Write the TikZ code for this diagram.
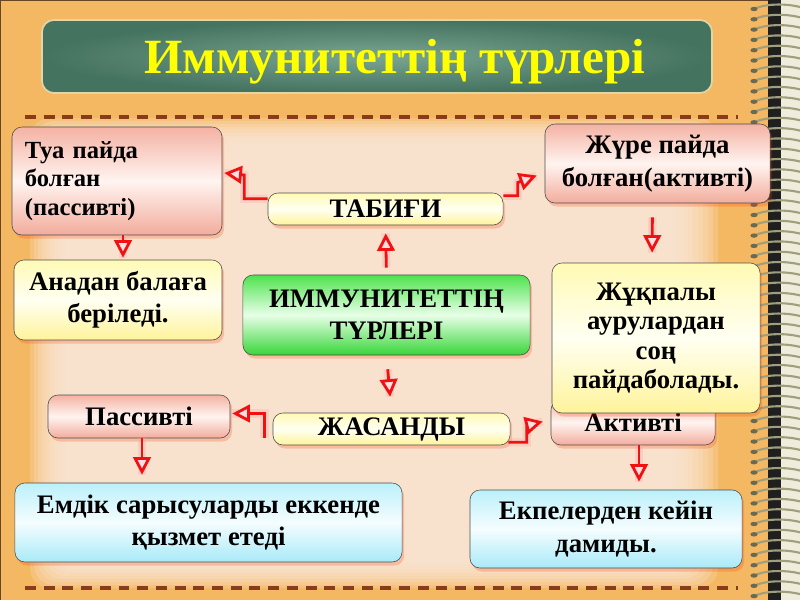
\documentclass[tikz,border=0pt]{standalone}
\usepackage{fontspec}
\setmainfont{Liberation Serif}
\usetikzlibrary{arrows.meta,calc,shadows}
\definecolor{frameorg}{HTML}{F4B862}
\definecolor{peach}{HTML}{FCE9DA}
\definecolor{dashbrn}{HTML}{8A3B1C}
\definecolor{boardgrn}{HTML}{44735F}
\definecolor{boardlt}{HTML}{7AA593}
\definecolor{boardrim}{HTML}{E2D6A8}
\definecolor{ttlyel}{HTML}{FFFF00}
\definecolor{arrred}{HTML}{F01212}
\definecolor{pinktop}{HTML}{F4B2A3}
\definecolor{pinkmid}{HTML}{FFF4F0}
\definecolor{pinkbot}{HTML}{F2AC9C}
\definecolor{yeltop}{HTML}{FFFAB4}
\definecolor{yelmid}{HTML}{FFFFF2}
\definecolor{yelbot}{HTML}{FFF39A}
\definecolor{grntop}{HTML}{4EE34E}
\definecolor{grnmid}{HTML}{E8FFE8}
\definecolor{grnbot}{HTML}{38D638}
\definecolor{cyantop}{HTML}{BBF0FA}
\definecolor{cyanmid}{HTML}{F5FDFF}
\definecolor{cyanbot}{HTML}{A8EAF8}
\definecolor{coilgray}{HTML}{A09E7C}
\definecolor{coildark}{HTML}{6A6952}
\definecolor{pagecream}{HTML}{EEEDDC}
\tikzset{
  tbox/.style={draw=gray!60!black,rounded corners=0.25cm,align=center,inner sep=2pt,
    font=\bfseries\fontsize{19}{23}\selectfont,
    drop shadow={fill=red!60!orange,opacity=0.22,shadow xshift=1.5pt,shadow yshift=-2.5pt}},
  pinkbox/.style={tbox,top color=pinktop,bottom color=pinkbot,middle color=pinkmid},
  yelbox/.style={tbox,top color=yeltop,bottom color=yelbot,middle color=yelmid},
  grnbox/.style={tbox,top color=grntop,bottom color=grnbot,middle color=grnmid},
  cyanbox/.style={tbox,top color=cyantop,bottom color=cyanbot,middle color=cyanmid},
  conn/.style={draw=arrred,line width=2pt,
    -{Triangle[open,length=4.4mm,width=4.4mm,fill=red!12]},
    preaction={draw=red!35,line width=6pt,opacity=0.3,-}},
  dashline/.style={dashbrn,line width=3.5pt,dash pattern=on 7.8pt off 5.5pt},
}
\begin{document}
\begin{tikzpicture}[x=0.025cm,y=-0.025cm]
\useasboundingbox (0,0) rectangle (800,600);
% ---- notebook page
\fill[frameorg] (0,0) rectangle (800,600);
\foreach \i in {0,...,9}
  \fill[peach,opacity=0.22,rounded corners=0.5cm] ({30+\i*4},{118+\i*3}) rectangle ({718-\i*5},{588-\i*3});
\draw[brown!55!black,line width=1pt] (0.5,599.5) -- (0.5,0.5) -- (768,0.5);
\draw[dashline] (25,117) -- (738,117);
\draw[dashline] (25,588) -- (738,588);
% ---- spiral binding
\fill[pagecream] (781,0) rectangle (800,600);
\fill[black!88] (768,0) rectangle (781,600);
\foreach \k in {0,...,57}{
  \pgfmathsetmacro\cy{9+10.3*\k}
  \draw[coilgray,line width=1.5pt] (754,\cy) .. controls (764,{\cy-5}) and (784,{\cy-6}) .. (800,{\cy-2});
  \fill[coildark] (754,\cy) ellipse [x radius=3.6, y radius=2.2];
}
% ---- title board
\draw[boardrim,line width=1.2pt,rounded corners=0.3cm,inner color=boardlt,outer color=boardgrn] (42,20) rectangle (712,93);
\node[anchor=base,text=ttlyel,font=\bfseries\fontsize{35}{40}\selectfont] (title) at (395,73) {Иммунитеттің түрлері};
% ---- boxes
\node[pinkbox,minimum width=5.25cm,minimum height=2.7cm,text width=4.6cm,align=left,inner xsep=0.32cm,
  font=\bfseries\fontsize{17.5}{20.5}\selectfont] (tua) at (117,181) {Туа пайда\\болған\\(пассивті)};
\node[pinkbox,minimum width=5.625cm,minimum height=1.975cm] (jure) at (657.5,163.5) {Жүре пайда\\болған(активті)};
\node[yelbox,minimum width=5.875cm,minimum height=0.8cm] (tabigi) at (385.5,209) {ТАБИҒИ};
\node[yelbox,minimum width=5.2cm,minimum height=2cm] (anadan) at (118,300) {Анадан балаға\\беріледі.};
\node[grnbox,minimum width=7.175cm,minimum height=2cm] (main) at (386.5,315) {ИММУНИТЕТТІҢ\\ТҮРЛЕРІ};
\node[pinkbox,minimum width=4.1cm,minimum height=1.125cm,text depth=0pt] (aktiv) at (633,422.5) {Активті};
\node[yelbox,minimum width=5.2cm,minimum height=3.75cm,font=\bfseries\fontsize{19}{21}\selectfont] (jukpaly) at (656,338) {Жұқпалы\\аурулардан\\соң\\пайдаболады.};
\node[pinkbox,minimum width=4.55cm,minimum height=1.075cm] (passiv) at (139,416.5) {Пассивті};
\node[yelbox,minimum width=5.925cm,minimum height=0.8cm] (jasandy) at (391.5,429) {ЖАСАНДЫ};
\node[cyanbox,minimum width=9.675cm,minimum height=1.975cm] (emdik) at (208.5,522.5) {Емдік сарысуларды еккенде\\қызмет етеді};
\node[cyanbox,minimum width=6.8cm,minimum height=1.95cm] (ekpe) at (606,529) {Екпелерден кейін\\дамиды.};
% ---- connectors
\draw[conn] ($(tabigi.north west)+(0,6)$) -| ($(tua.east)+(22,-6)$) -- ($(tua.east)+(2,-8)$);
\draw[conn] ($(tabigi.north east)+(0,3)$) -| ($(jure.west)+(-27,19)$) -- ($(jure.west)+(-8,12)$);
\draw[conn,shorten <=0.18cm,shorten >=0.2cm] (main.north) -- (tabigi.south);
\draw[conn,shorten <=0.35cm,shorten >=0.4cm] (main.south) -- (jasandy.north);
\draw[conn,shorten >=0.05cm] ($(tua.south)+(6,0)$) -- ($(anadan.north)+(5,0)$);
\draw[conn,shorten <=0.35cm,shorten >=0.25cm] ($(jure.south)+(-5,0)$) -- ($(jukpaly.north)+(-4,0)$);
\draw[conn] ($(jasandy.south west)+(-8,-7)$) |- ($(passiv.east)+(2,-3)$);
\draw[conn] ($(jasandy.south east)+(-2,-3)$) -| ($(aktiv.west)+(-24,3)$) -- ($(aktiv.west)+(-8,-1)$);
\draw[conn,shorten >=0.2cm] ($(passiv.south)+(3,0)$) -- ($(passiv.south |- emdik.north)+(3,0)$);
\draw[conn,shorten >=0.2cm] ($(aktiv.south)+(6,0)$) -- ($(aktiv.south |- ekpe.north)+(6,0)$);
\end{tikzpicture}
\end{document}
